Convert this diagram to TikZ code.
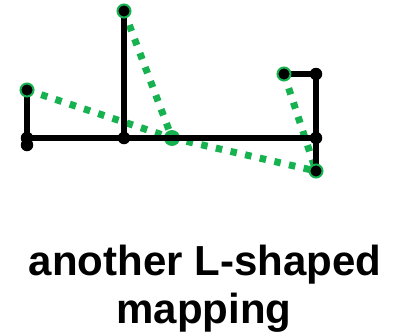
\documentclass[tikz,border=0pt]{standalone}
\usepackage{fontspec}
\setmainfont{Liberation Sans}
\definecolor{mgreen}{RGB}{22,178,80}
\begin{document}
\begin{tikzpicture}[x=1pt,y=-1pt,
  blk/.style={line width=5.5pt,black},
  grn/.style={line width=7pt,mgreen,dash pattern=on 6.5pt off 8.5pt},
  bdot/.style={circle,fill=black,inner sep=0pt,minimum size=12.5pt},
  rdot/.style={circle,fill=black,draw=mgreen,line width=2pt,inner sep=0pt,minimum size=13pt},
  gdot/.style={circle,fill=mgreen,inner sep=0pt,minimum size=16pt},
  title/.style={font=\bfseries\fontsize{42}{48}\selectfont,inner sep=0pt,anchor=base}]
\useasboundingbox (0,0) rectangle (396,335);
\coordinate (A) at (27,90);
\coordinate (B) at (27,138);
\coordinate (B2) at (27,145);
\coordinate (C) at (124,138);
\coordinate (D) at (124,11);
\coordinate (E) at (172,138);
\coordinate (F) at (316,138);
\coordinate (G) at (316,74);
\coordinate (H) at (284,74);
\coordinate (I) at (316,171);
% green dotted mapping
\draw[grn] (A) -- (E);
\draw[grn] (D) -- (E);
\draw[grn] (E) -- (I);
\draw[grn] (H) -- (I);
\node[gdot] (e) at (E) {};
% black L shapes
\draw[blk] (A) -- (B2);
\draw[blk] (B) -- (F);
\draw[blk] (C) -- (D);
\draw[blk] (I) -- (G) -- (H);
\node[bdot] (b) at (B) {};
\node[bdot] (b2) at (B2) {};
\node[bdot] (c) at (C) {};
\node[bdot] (f) at (F) {};
\node[bdot] (g) at (G) {};
\node[rdot] (a) at (A) {};
\node[rdot] (d) at (D) {};
\node[rdot] (h) at (H) {};
\node[rdot] (i) at (I) {};
\node[title] (t1) at (205,275) {another L-shaped};
\node[title] (t2) at (204,323) {mapping};
\end{tikzpicture}
\end{document}
